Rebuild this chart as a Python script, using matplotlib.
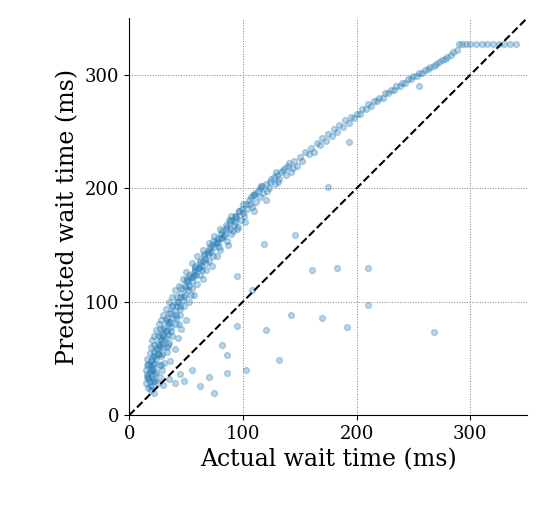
import matplotlib
matplotlib.use("Agg")
import matplotlib.pyplot as plt

# Main band of (actual, predicted) points
actual = [
    15, 15, 16, 16, 17, 17, 18, 18, 18, 19, 19, 20, 20, 20, 21, 21, 22, 22, 22, 23,
    24, 24, 25, 25, 26, 26, 27, 27, 28, 28, 29, 30, 30, 31, 32, 32, 33, 34, 35, 35,
    36, 37, 38, 38, 40, 40, 41, 42, 43, 44, 45, 45, 46, 47, 48, 50, 50, 52, 53, 55,
    55, 57, 58, 60, 60, 62, 63, 65, 65, 67, 68, 70, 70, 72, 73, 75, 75, 77, 78, 80,
    80, 82, 84, 85, 87, 88, 90, 90, 92, 94, 95, 97, 98, 100, 100, 102, 104, 105, 108, 110,
    110, 112, 115, 115, 118, 120, 120, 123, 125, 128, 130, 132, 135, 138, 140, 142, 145, 148, 150, 152,
    155, 158, 160, 163, 165, 168, 170, 173, 175, 178, 180, 183, 185, 188, 190, 193, 195, 198, 200, 203,
    205, 208, 210, 213, 215, 218, 220, 223, 225, 228, 230, 233, 235, 238, 240, 243, 245, 248, 250, 253,
    255, 258, 260, 263, 265, 268, 270, 273, 275, 278, 280, 283, 285, 288, 290, 293, 296, 300, 305, 310,
    315, 320, 325, 330, 335, 340,
]
predicted = [
    28, 40, 34, 50, 24, 45, 30, 38, 55, 22, 60, 26, 42, 66, 32, 52, 20, 46, 70, 36,
    58, 75, 28, 64, 44, 80, 34, 70, 52, 84, 40, 60, 88, 46, 74, 94, 56, 82, 64, 100,
    48, 90, 70, 104, 58, 110, 80, 96, 68, 114, 88, 104, 76, 120, 96, 84, 126, 110, 100, 118,
    134, 106, 128, 116, 140, 124, 132, 120, 146, 138, 128, 136, 152, 144, 132, 148, 158, 140, 152, 146,
    164, 156, 160, 168, 150, 172, 160, 176, 168, 174, 164, 180, 172, 178, 186, 170, 182, 190, 184, 180,
    194, 188, 192, 200, 196, 190, 204, 200, 208, 204, 212, 208, 216, 212, 220, 214, 224, 220, 228, 224,
    232, 230, 236, 232, 240, 238, 244, 242, 248, 246, 252, 250, 256, 254, 260, 258, 263, 262, 266, 266,
    270, 270, 274, 273, 277, 277, 280, 280, 284, 284, 287, 287, 290, 290, 293, 293, 296, 296, 299, 299,
    302, 302, 304, 305, 307, 308, 310, 311, 313, 314, 316, 318, 320, 322, 327, 327, 327, 327, 327, 327,
    327, 327, 327, 327, 327, 327,
]

# Extra points filling the dense part of the band (actual < 130 ms)
dense_actual = [
    16, 17, 18, 19, 20, 21, 22, 23, 24, 25, 26, 27, 28, 29, 30, 31, 32, 33, 34, 35,
    16, 18, 20, 22, 24, 26, 28, 30, 32, 34, 36, 38, 40, 42, 44, 46, 48, 50, 52, 54,
    19, 21, 23, 25, 27, 29, 31, 33, 35, 37, 39, 41, 43, 45, 47, 49, 51, 53, 55, 57,
    56, 58, 59, 61, 62, 64, 66, 68, 69, 71, 74, 76, 79, 81, 83, 86, 89, 91, 93, 96,
    38, 42, 46, 50, 54, 58, 62, 66, 70, 74, 78, 82, 86, 90, 94, 99, 103, 107, 111, 116,
    17, 21, 25, 29, 33, 37, 41, 45, 49, 53, 57, 61, 65, 69, 73, 77, 81, 85, 89, 93,
    97, 101, 106, 109, 113, 117, 121, 124, 127, 129, 131, 134, 137, 141, 144,
]
dense_predicted = [
    36, 32, 44, 48, 36, 40, 56, 30, 50, 58, 62, 60, 66, 72, 70, 78, 68, 86, 72, 90,
    44, 26, 50, 62, 38, 54, 44, 76, 84, 62, 82, 96, 92, 100, 80, 108, 104, 112, 118, 106,
    40, 30, 52, 70, 76, 54, 66, 74, 80, 78, 86, 88, 100, 96, 102, 114, 120, 124, 112, 126,
    122, 132, 124, 130, 136, 128, 140, 134, 144, 148, 140, 152, 148, 156, 158, 154, 164, 162, 170, 166,
    96, 104, 112, 118, 122, 130, 134, 142, 146, 154, 156, 162, 166, 172, 176, 182, 186, 192, 196, 202,
    34, 44, 54, 64, 60, 74, 86, 94, 106, 114, 124, 130, 136, 142, 150, 154, 160, 164, 170, 176,
    180, 176, 186, 194, 198, 202, 198, 206, 210, 214, 206, 214, 218, 222, 218,
]

# Scattered points that fall off the main band
outlier_actual = [119, 95, 95, 86, 86, 103, 120, 132, 161, 183, 210, 210, 170, 192, 268, 142, 193, 146, 175,
                  48, 55, 62, 70, 75, 82, 40, 45, 35, 30, 108, 255]
outlier_predicted = [151, 123, 79, 53, 37, 40, 75, 49, 128, 130, 130, 97, 86, 78, 73, 88, 241, 159, 201,
                     30, 40, 26, 34, 20, 62, 28, 36, 32, 27, 110, 290]

plt.rcParams["font.family"] = "DejaVu Serif"

fig, ax = plt.subplots(figsize=(5.45, 5.21), dpi=100)
fig.subplots_adjust(left=0.237, right=0.967, top=0.965, bottom=0.203)

color = "#1f77b4"
ax.scatter(actual + dense_actual + outlier_actual,
           predicted + dense_predicted + outlier_predicted,
           s=18, color=color, alpha=0.3, edgecolors=color, linewidths=1)
ax.plot([0, 350], [0, 350], "k--", linewidth=1.5)

ax.set_xlim(0, 350)
ax.set_ylim(0, 350)
ax.set_xticks([0, 100, 200, 300])
ax.set_yticks([0, 100, 200, 300])
ax.grid(True, linestyle=":", color="gray", linewidth=0.7)
ax.set_axisbelow(True)
ax.spines["top"].set_visible(False)
ax.spines["right"].set_visible(False)
ax.tick_params(labelsize=13)
ax.set_xlabel("Actual wait time (ms)", fontsize=17)
ax.set_ylabel("Predicted wait time (ms)", fontsize=17)

fig.savefig("out.png", dpi=100, facecolor="white")
